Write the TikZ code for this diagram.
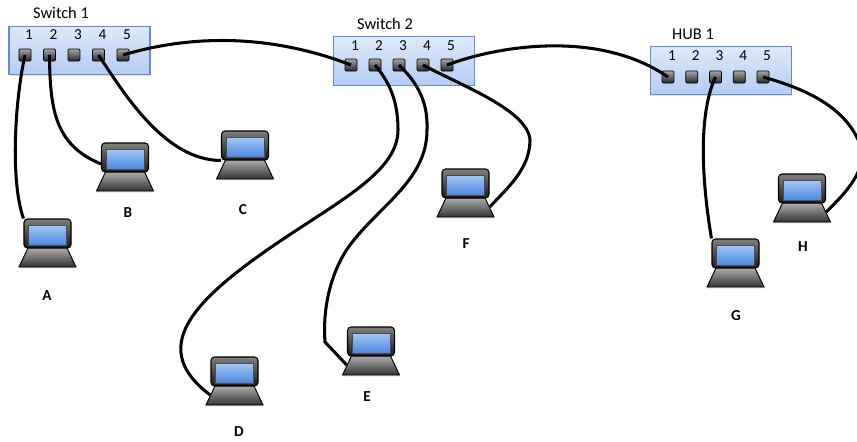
\documentclass[tikz,border=0pt]{standalone}
\usepackage{fontspec}
\setmainfont{Carlito}
\usepackage{xcolor}
\usetikzlibrary{positioning, shapes.geometric, shadows}

\definecolor{boxtop}{HTML}{DDE9FB}
\definecolor{boxbot}{HTML}{B3CDF3}
\definecolor{boxline}{HTML}{5E8FD4}
\definecolor{scrtop}{HTML}{A3C8F6}
\definecolor{scrbot}{HTML}{4D88DF}

\tikzset{
    laptop/.pic={
        \node[lapbase] (-base) at (0,14) {};
        \node[lid] (-lid) at (0,-9.5) {};
        \node[screen] (-screen) at (0,-8) {};
    }
}

\begin{document}
\begin{tikzpicture}[
        x=0.03cm, y=-0.03cm,
        box/.style={draw=boxline, line width=0.9pt, top color=boxtop, bottom color=boxbot, minimum width=4.23cm, minimum height=1.45cm, inner sep=0, drop shadow={opacity=0.25, shadow xshift=0.8pt, shadow yshift=-0.8pt}},
        port/.style={draw=black, line width=0.6pt, rounded corners=1pt, top color=black!35, bottom color=black!85, minimum size=0.36cm, inner sep=0},
        num/.style={font=\fontsize{13}{13}\selectfont, inner sep=0},
        title/.style={font=\fontsize{14}{14}\selectfont, inner sep=0},
        lbl/.style={font=\fontsize{13}{13}\selectfont\bfseries, inner sep=0},
        lid/.style={draw=black, line width=0.9pt, rounded corners=3pt, top color=black!50, bottom color=black!90, minimum width=1.41cm, minimum height=0.87cm, inner sep=0},
        screen/.style={draw=black!70, line width=0.4pt, top color=scrtop, bottom color=scrbot, minimum width=1.14cm, minimum height=0.6cm, inner sep=0},
        lapbase/.style={trapezium, trapezium stretches=true, trapezium left angle=76, trapezium right angle=76, draw=black, line width=0.8pt, top color=black!30, bottom color=black!80, minimum width=1.71cm, minimum height=0.6cm, inner sep=1pt, drop shadow={opacity=0.3, shadow xshift=0pt, shadow yshift=-1.2pt}},
        cable/.style={line width=2.6pt, black}
    ]
        \useasboundingbox (0,0) rectangle (857,441);

        % Switches and hub
        \node[box] (sw1) at (79.5,50.5) {};
        \node[box] (sw2) at (404,61) {};
        \node[box] (hub1) at (721,70.5) {};

        \node[title] (sw1t) at (61,13) {Switch 1};
        \node[title] (sw2t) at (385,24) {Switch 2};
        \node[title] (hub1t) at (693,34) {HUB 1};

        % Ports
        \foreach \i in {1,...,5}{
            \node[port] (s1p\i) at ({25+24.5*(\i-1)},55) {};
            \node[num] (s1n\i) at ({29+24.5*(\i-1)},35) {\i};
            \node[port] (s2p\i) at ({351+24*(\i-1)},65) {};
            \node[num] (s2n\i) at ({355+24*(\i-1)},46) {\i};
            \node[port] (h1p\i) at ({668+23.75*(\i-1)},77) {};
            \node[num] (h1n\i) at ({672+23.75*(\i-1)},56) {\i};
        }

        % Laptops
        \pic (A) at (47.5,243) {laptop};
        \pic (B) at (125,167) {laptop};
        \pic (C) at (245,155) {laptop};
        \pic (D) at (234.5,381) {laptop};
        \pic (E) at (371,351) {laptop};
        \pic (F) at (465.5,193) {laptop};
        \pic (G) at (735.5,263) {laptop};
        \pic (H) at (802,198) {laptop};

        \node[lbl] (labA) at (47,296) {A};
        \node[lbl] (labB) at (128,213) {B};
        \node[lbl] (labC) at (243,210) {C};
        \node[lbl] (labD) at (239,432) {D};
        \node[lbl] (labE) at (367,397) {E};
        \node[lbl] (labF) at (466,244) {F};
        \node[lbl] (labG) at (736,316) {G};
        \node[lbl] (labH) at (803,247) {H};

        % Cables
        \draw[cable] (s1p1.center) .. controls (15,100) and (10,180) .. (A-lid.north west);
        \draw[cable] (s1p2.center) .. controls (50,110) and (55,145) .. (B-lid.195);
        \draw[cable] (s1p4.center) .. controls (125,95) and (165,160) .. (C-lid.south west);
        \draw[cable] (s1p5.center) .. controls (180,38) and (260,30) .. (s2p1.center);
        \draw[cable] (s2p5.center) .. controls (500,45) and (600,30) .. (h1p1.center);
        \draw[cable] (s2p2.center) .. controls (392,85) and (398,105) .. (398,130)
            .. controls (398,175) and (330,205) .. (260,255)
            .. controls (190,305) and (150,350) .. (D-base.west);
        \draw[cable] (s2p3.center) .. controls (420,85) and (428,105) .. (427,130)
            .. controls (427,180) and (380,205) .. (350,245)
            .. controls (335,265) and (322,300) .. (325,342) -- (E-base.west);
        \draw[cable] (s2p4.center) .. controls (460,85) and (528,110) .. (530,140)
            .. controls (530,170) and (505,190) .. (F-base.east);
        \draw[cable] (h1p3.center) .. controls (700,110) and (700,170) .. (G-lid.north west);
        \draw[cable] (h1p5.center) .. controls (810,90) and (850,110) .. (862,150)
            .. controls (865,175) and (840,198) .. (H-base.east);

\end{tikzpicture}
\end{document}
